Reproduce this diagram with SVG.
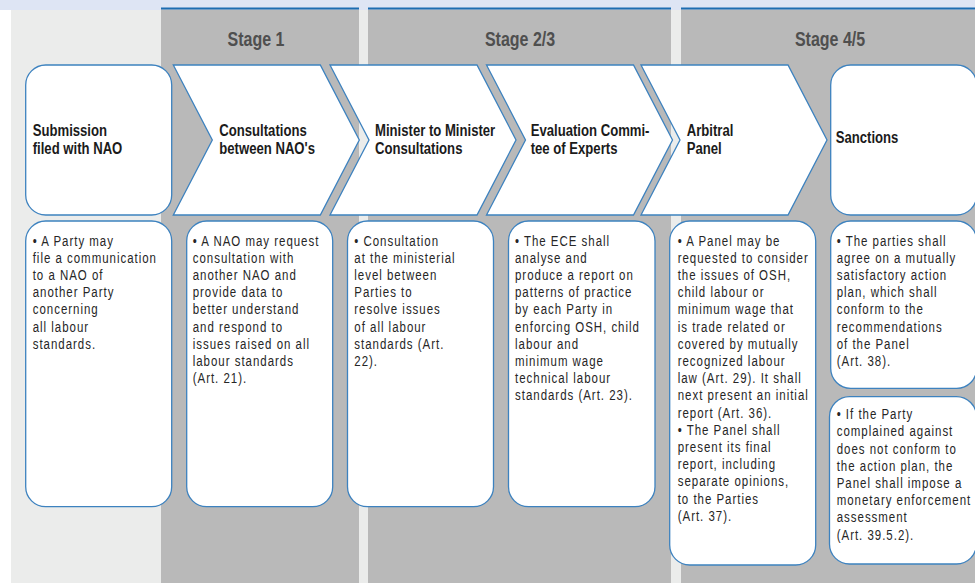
<svg xmlns="http://www.w3.org/2000/svg" width="975" height="583" viewBox="0 0 975 583">
  <style>
    .shape { fill: #ffffff; stroke: #3d82bf; stroke-width: 1.3; }
    .stage { fill: #b9b9b9; }
    .stageline { fill: #1d6db1; }
    /* condensed lettering: Liberation Sans squeezed horizontally by the text transforms */
    .stagelabel { font-family: "Liberation Sans", Arial, sans-serif; font-weight: bold; font-size: 19.5px; fill: #4f4f4f; text-anchor: middle; }
    .head { font-family: "Liberation Sans", Arial, sans-serif; font-weight: bold; font-size: 16px; fill: #1b1b1b; }
    .body { font-family: "Liberation Sans", Arial, sans-serif; font-size: 14px; letter-spacing: 1.2px; fill: #262626; }
  </style>

  <!-- background bands -->
  <rect x="0" y="0" width="975" height="10" fill="#dee5f4"/>
  <rect x="11" y="10" width="964" height="573" fill="#ebeceb"/>

  <!-- stage columns -->
  <g id="stage-1">
    <rect class="stage" x="161" y="9.5" width="198" height="573.5"/>
    <rect class="stageline" x="161" y="7.5" width="198" height="2"/>
    <text class="stagelabel" transform="translate(256 45.5) scale(0.82 1)">Stage 1</text>
  </g>
  <g id="stage-2-3">
    <rect class="stage" x="368" y="9.5" width="303" height="573.5"/>
    <rect class="stageline" x="368" y="7.5" width="303" height="2"/>
    <text class="stagelabel" transform="translate(520 45.5) scale(0.82 1)">Stage 2/3</text>
  </g>
  <g id="stage-4-5">
    <rect class="stage" x="681" y="9.5" width="294" height="573.5"/>
    <rect class="stageline" x="681" y="7.5" width="294" height="2"/>
    <text class="stagelabel" transform="translate(830 45.5) scale(0.82 1)">Stage 4/5</text>
  </g>

  <!-- process steps -->
  <g id="submission">
    <rect class="shape" x="25.7" y="65" width="146" height="150" rx="20" ry="20"/>
    <text class="head" transform="translate(32.7 135.7) scale(0.82 1)"><tspan x="0" y="0">Submission</tspan><tspan x="0" dy="18.6">filed with NAO</tspan></text>
  </g>
  <g id="nao-consultations">
    <path class="shape" d="M173.3,65 L320.3,65 L359.3,140 L320.3,215 L173.3,215 L212.3,140 Z"/>
    <text class="head" transform="translate(219.3 135.7) scale(0.82 1)"><tspan x="0" y="0">Consultations</tspan><tspan x="0" dy="18.6">between NAO's</tspan></text>
  </g>
  <g id="minister-consultations">
    <path class="shape" d="M330,65 L477,65 L516,140 L477,215 L330,215 L369,140 Z"/>
    <text class="head" transform="translate(375 135.7) scale(0.82 1)"><tspan x="0" y="0">Minister to Minister</tspan><tspan x="0" dy="18.6">Consultations</tspan></text>
  </g>
  <g id="evaluation-committee">
    <path class="shape" d="M486.5,65 L633.5,65 L672.5,140 L633.5,215 L486.5,215 L525.5,140 Z"/>
    <text class="head" transform="translate(530.7 135.7) scale(0.82 1)"><tspan x="0" y="0">Evaluation Commi-</tspan><tspan x="0" dy="18.6">tee of Experts</tspan></text>
  </g>
  <g id="arbitral-panel">
    <path class="shape" d="M641,65 L788,65 L827,140 L788,215 L641,215 L680,140 Z"/>
    <text class="head" transform="translate(686.7 135.7) scale(0.82 1)"><tspan x="0" y="0">Arbitral</tspan><tspan x="0" dy="18.6">Panel</tspan></text>
  </g>
  <g id="sanctions">
    <rect class="shape" x="830.7" y="65" width="146" height="150" rx="20" ry="20"/>
    <text class="head" transform="translate(835.7 143.3) scale(0.82 1)">Sanctions</text>
  </g>

  <!-- descriptions -->
  <g id="submission-notes">
    <rect class="shape" x="25.7" y="221" width="146" height="285.7" rx="20" ry="20"/>
    <text class="body" transform="translate(32.7 245.7) scale(0.82 1)"><tspan x="0" y="0">• A Party may</tspan><tspan x="0" dy="17.2">file a communication</tspan><tspan x="0" dy="17.2">to a NAO of</tspan><tspan x="0" dy="17.2">another Party</tspan><tspan x="0" dy="17.2">concerning</tspan><tspan x="0" dy="17.2">all labour</tspan><tspan x="0" dy="17.2">standards.</tspan></text>
  </g>
  <g id="nao-consultations-notes">
    <rect class="shape" x="186.7" y="221" width="146" height="285.7" rx="20" ry="20"/>
    <text class="body" transform="translate(192.7 245.7) scale(0.82 1)"><tspan x="0" y="0">• A NAO may request</tspan><tspan x="0" dy="17.2">consultation with</tspan><tspan x="0" dy="17.2">another NAO and</tspan><tspan x="0" dy="17.2">provide data to</tspan><tspan x="0" dy="17.2">better understand</tspan><tspan x="0" dy="17.2">and respond to</tspan><tspan x="0" dy="17.2">issues raised on all</tspan><tspan x="0" dy="17.2">labour standards</tspan><tspan x="0" dy="17.2">(Art. 21).</tspan></text>
  </g>
  <g id="minister-consultations-notes">
    <rect class="shape" x="347.5" y="221" width="146" height="285.7" rx="20" ry="20"/>
    <text class="body" transform="translate(354.3 245.7) scale(0.82 1)"><tspan x="0" y="0">• Consultation</tspan><tspan x="0" dy="17.2">at the ministerial</tspan><tspan x="0" dy="17.2">level between</tspan><tspan x="0" dy="17.2">Parties to</tspan><tspan x="0" dy="17.2">resolve issues</tspan><tspan x="0" dy="17.2">of all labour</tspan><tspan x="0" dy="17.2">standards (Art.</tspan><tspan x="0" dy="17.2">22).</tspan></text>
  </g>
  <g id="evaluation-committee-notes">
    <rect class="shape" x="508.5" y="221" width="146.5" height="285.7" rx="20" ry="20"/>
    <text class="body" transform="translate(515 245.7) scale(0.82 1)"><tspan x="0" y="0">• The ECE shall</tspan><tspan x="0" dy="17.2">analyse and</tspan><tspan x="0" dy="17.2">produce a report on</tspan><tspan x="0" dy="17.2">patterns of practice</tspan><tspan x="0" dy="17.2">by each Party in</tspan><tspan x="0" dy="17.2">enforcing OSH, child</tspan><tspan x="0" dy="17.2">labour and</tspan><tspan x="0" dy="17.2">minimum wage</tspan><tspan x="0" dy="17.2">technical labour</tspan><tspan x="0" dy="17.2">standards (Art. 23).</tspan></text>
  </g>
  <g id="arbitral-panel-notes">
    <rect class="shape" x="669.7" y="221" width="146" height="344" rx="20" ry="20"/>
    <text class="body" transform="translate(677.7 245.7) scale(0.82 1)"><tspan x="0" y="0">• A Panel may be</tspan><tspan x="0" dy="17.2">requested to consider</tspan><tspan x="0" dy="17.2">the issues of OSH,</tspan><tspan x="0" dy="17.2">child labour or</tspan><tspan x="0" dy="17.2">minimum wage that</tspan><tspan x="0" dy="17.2">is trade related or</tspan><tspan x="0" dy="17.2">covered by mutually</tspan><tspan x="0" dy="17.2">recognized labour</tspan><tspan x="0" dy="17.2">law (Art. 29). It shall</tspan><tspan x="0" dy="17.2">next present an initial</tspan><tspan x="0" dy="17.2">report (Art. 36).</tspan><tspan x="0" dy="17.2">• The Panel shall</tspan><tspan x="0" dy="17.2">present its final</tspan><tspan x="0" dy="17.2">report, including</tspan><tspan x="0" dy="17.2">separate opinions,</tspan><tspan x="0" dy="17.2">to the Parties</tspan><tspan x="0" dy="17.2">(Art. 37).</tspan></text>
  </g>
  <g id="action-plan-notes">
    <rect class="shape" x="830.7" y="221" width="146" height="167.3" rx="20" ry="20"/>
    <text class="body" transform="translate(836.7 245.7) scale(0.82 1)"><tspan x="0" y="0">• The parties shall</tspan><tspan x="0" dy="17.2">agree on a mutually</tspan><tspan x="0" dy="17.2">satisfactory action</tspan><tspan x="0" dy="17.2">plan, which shall</tspan><tspan x="0" dy="17.2">conform to the</tspan><tspan x="0" dy="17.2">recommendations</tspan><tspan x="0" dy="17.2">of the Panel</tspan><tspan x="0" dy="17.2">(Art. 38).</tspan></text>
  </g>
  <g id="enforcement-notes">
    <rect class="shape" x="829.5" y="396.7" width="147" height="167.3" rx="20" ry="20"/>
    <text class="body" transform="translate(836.7 419.3) scale(0.82 1)"><tspan x="0" y="0">• If the Party</tspan><tspan x="0" dy="17.2">complained against</tspan><tspan x="0" dy="17.2">does not conform to</tspan><tspan x="0" dy="17.2">the action plan, the</tspan><tspan x="0" dy="17.2">Panel shall impose a</tspan><tspan x="0" dy="17.2">monetary enforcement</tspan><tspan x="0" dy="17.2">assessment</tspan><tspan x="0" dy="17.2">(Art. 39.5.2).</tspan></text>
  </g>
</svg>
